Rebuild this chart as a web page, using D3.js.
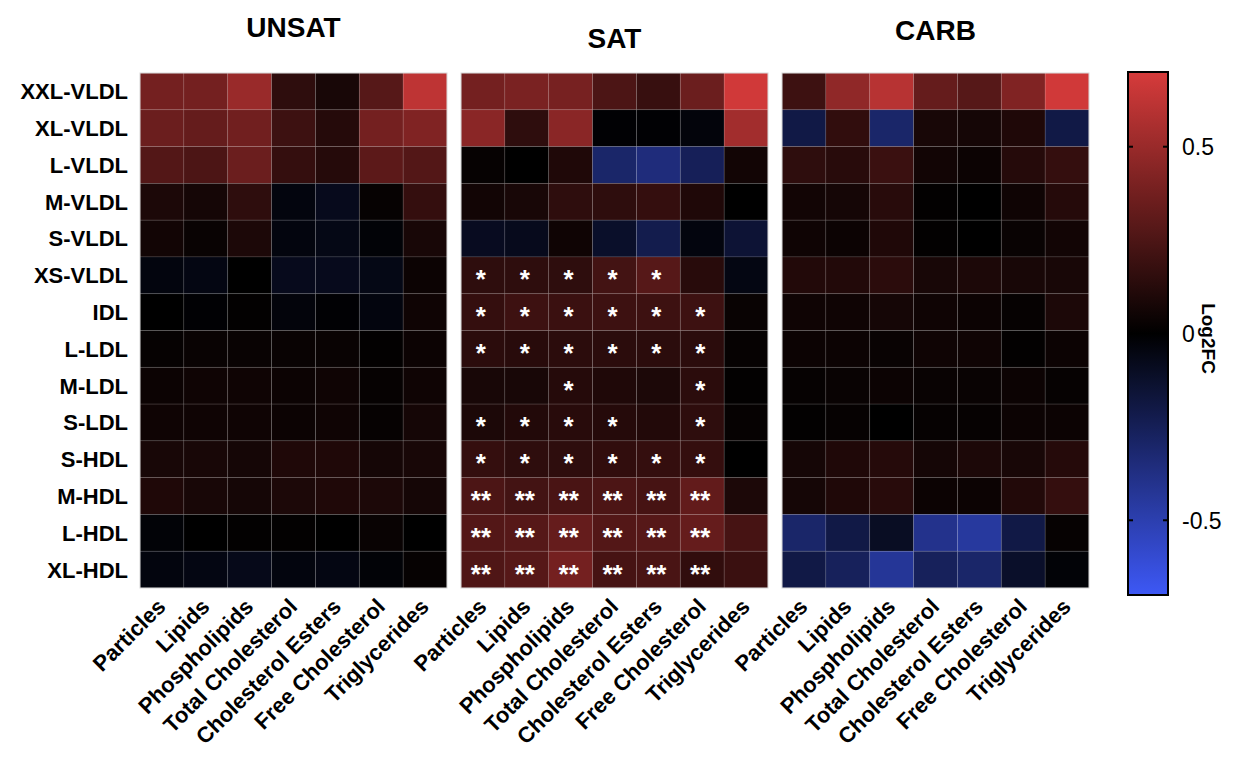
<!DOCTYPE html>
<html>
<head>
<meta charset="utf-8">
<script src="https://cdn.jsdelivr.net/npm/d3@7"></script>
<style>
  body { margin: 0; background: #fff; }
  text { font-family: "Liberation Sans", Arial, sans-serif; }
</style>
</head>
<body>
<div id="chart"></div>
<script>
var width = 1240, height = 762;

// rows and columns
var rows = ["XXL-VLDL", "XL-VLDL", "L-VLDL", "M-VLDL", "S-VLDL", "XS-VLDL", "IDL",
            "L-LDL", "M-LDL", "S-LDL", "S-HDL", "M-HDL", "L-HDL", "XL-HDL"];
var cols = ["Particles", "Lipids", "Phospholipids", "Total Cholesterol",
            "Cholesterol Esters", "Free Cholesterol", "Triglycerides"];
var panels = ["UNSAT", "SAT", "CARB"];
var ticks = [-0.5, 0, 0.5];

// log2FC values, one row per lipoprotein class
var unsat = [
  [0.38, 0.38, 0.50, 0.15, 0.08, 0.28, 0.62],
  [0.35, 0.33, 0.37, 0.20, 0.12, 0.38, 0.42],
  [0.27, 0.25, 0.35, 0.17, 0.12, 0.30, 0.27],
  [0.09, 0.07, 0.15, -0.04, -0.08, 0.02, 0.17],
  [0.06, 0.03, 0.09, -0.04, -0.06, -0.02, 0.08],
  [-0.04, -0.05, 0.00, -0.08, -0.08, -0.06, 0.04],
  [0.00, -0.01, 0.01, -0.03, -0.01, -0.04, 0.05],
  [0.02, 0.03, 0.03, 0.03, 0.03, 0.01, 0.04],
  [0.04, 0.05, 0.05, 0.04, 0.05, 0.02, 0.05],
  [0.05, 0.05, 0.05, 0.04, 0.05, 0.02, 0.07],
  [0.08, 0.08, 0.07, 0.10, 0.10, 0.07, 0.08],
  [0.10, 0.08, 0.07, 0.09, 0.10, 0.09, 0.07],
  [-0.02, 0.00, 0.01, 0.01, 0.00, 0.03, 0.00],
  [-0.04, -0.05, -0.07, -0.04, -0.05, -0.02, 0.02]
];
var sat = [
  [0.38, 0.40, 0.39, 0.25, 0.18, 0.35, 0.68],
  [0.45, 0.15, 0.45, -0.01, -0.01, -0.03, 0.53],
  [0.02, 0.00, 0.10, -0.30, -0.35, -0.25, 0.06],
  [0.06, 0.08, 0.15, 0.15, 0.17, 0.10, 0.00],
  [-0.09, -0.08, 0.05, -0.12, -0.22, -0.04, -0.15],
  [0.15, 0.15, 0.15, 0.22, 0.28, 0.13, -0.05],
  [0.17, 0.20, 0.19, 0.20, 0.20, 0.20, 0.03],
  [0.14, 0.13, 0.14, 0.14, 0.14, 0.14, 0.02],
  [0.08, 0.08, 0.12, 0.10, 0.09, 0.14, 0.01],
  [0.09, 0.11, 0.13, 0.12, 0.11, 0.15, 0.02],
  [0.17, 0.15, 0.15, 0.16, 0.17, 0.17, 0.00],
  [0.25, 0.22, 0.24, 0.25, 0.23, 0.32, 0.09],
  [0.27, 0.28, 0.33, 0.27, 0.28, 0.33, 0.23],
  [0.26, 0.28, 0.38, 0.23, 0.24, 0.16, 0.19]
];
var carb = [
  [0.20, 0.47, 0.60, 0.33, 0.28, 0.42, 0.68],
  [-0.20, 0.16, -0.30, 0.08, 0.07, 0.10, -0.20],
  [0.15, 0.13, 0.19, 0.06, 0.04, 0.12, 0.17],
  [0.06, 0.07, 0.13, 0.01, 0.00, 0.05, 0.12],
  [0.05, 0.04, 0.10, 0.01, 0.00, 0.03, 0.06],
  [0.11, 0.11, 0.14, 0.08, 0.09, 0.08, 0.08],
  [0.05, 0.05, 0.07, 0.05, 0.04, 0.02, 0.09],
  [0.04, 0.04, 0.03, 0.05, 0.05, 0.01, 0.04],
  [0.02, 0.03, 0.04, 0.03, 0.03, 0.04, 0.02],
  [0.01, 0.02, 0.00, 0.02, 0.02, 0.04, 0.04],
  [0.07, 0.10, 0.12, 0.07, 0.09, 0.08, 0.12],
  [0.07, 0.10, 0.13, 0.04, 0.04, 0.11, 0.17],
  [-0.30, -0.20, -0.10, -0.40, -0.45, -0.20, 0.02],
  [-0.20, -0.26, -0.43, -0.26, -0.30, -0.12, -0.02]
];
// significance marks for SAT
var satStars = [
  ["", "", "", "", "", "", ""],
  ["", "", "", "", "", "", ""],
  ["", "", "", "", "", "", ""],
  ["", "", "", "", "", "", ""],
  ["", "", "", "", "", "", ""],
  ["*", "*", "*", "*", "*", "", ""],
  ["*", "*", "*", "*", "*", "*", ""],
  ["*", "*", "*", "*", "*", "*", ""],
  ["", "", "*", "", "", "*", ""],
  ["*", "*", "*", "*", "", "*", ""],
  ["*", "*", "*", "*", "*", "*", ""],
  ["**", "**", "**", "**", "**", "**", ""],
  ["**", "**", "**", "**", "**", "**", ""],
  ["**", "**", "**", "**", "**", "**", ""]
];

var panelData = [unsat, sat, carb];
var panelStars = [null, satStars, null];
var panelX = [140, 461, 782];
var titleY = [37, 48, 40];
var panelW = 307, plotTop = 73, plotBottom = 588;

var color = d3.scaleLinear()
    .domain([-0.7, 0, 0.7])
    .range(["#3d58f5", "#000000", "#d63b3b"])
    .clamp(true);

var svg = d3.select("#chart").append("svg")
    .attr("width", width)
    .attr("height", height);

var y = d3.scaleBand().domain(rows).range([plotTop, plotBottom]).padding(0);

// row labels
svg.append("g")
    .selectAll("text")
    .data(rows)
    .enter().append("text")
    .attr("x", 128)
    .attr("y", function(d) { return y(d) + y.bandwidth() / 2; })
    .attr("dy", "0.36em")
    .attr("text-anchor", "end")
    .attr("font-size", 22)
    .attr("font-weight", "bold")
    .text(function(d) { return d; });

panels.forEach(function(name, p) {
    var x = d3.scaleBand().domain(cols).range([panelX[p], panelX[p] + panelW]);
    var g = svg.append("g").attr("class", "panel");
    var data = panelData[p];
    var cells = [];
    rows.forEach(function(r, i) {
        cols.forEach(function(c, j) {
            cells.push({ row: r, col: c, v: data[i][j],
                         star: panelStars[p] ? panelStars[p][i][j] : "" });
        });
    });

    g.selectAll("rect.cell")
        .data(cells)
        .enter().append("rect")
        .attr("class", "cell")
        .attr("x", function(d) { return x(d.col); })
        .attr("y", function(d) { return y(d.row); })
        .attr("width", x.bandwidth())
        .attr("height", y.bandwidth())
        .attr("fill", function(d) { return color(d.v); })
        .attr("stroke", "rgba(255,255,255,0.12)")
        .attr("stroke-width", 0.8);

    g.append("rect")
        .attr("x", panelX[p])
        .attr("y", plotTop)
        .attr("width", panelW)
        .attr("height", plotBottom - plotTop)
        .attr("fill", "none")
        .attr("stroke", "#d8d8d8")
        .attr("stroke-width", 1);

    g.selectAll("text.star")
        .data(cells.filter(function(d) { return d.star; }))
        .enter().append("text")
        .attr("class", "star")
        .attr("x", function(d) { return x(d.col) + x.bandwidth() / 2 - 2; })
        .attr("y", function(d) { return y(d.row) + y.bandwidth() / 2 + 13; })
        .attr("text-anchor", "middle")
        .attr("fill", "#fff")
        .attr("font-size", 26)
        .attr("font-weight", "bold")
        .text(function(d) { return d.star; });

    // title
    svg.append("text")
        .attr("x", panelX[p] + panelW / 2)
        .attr("y", titleY[p])
        .attr("text-anchor", "middle")
        .attr("font-size", 28)
        .attr("font-weight", "bold")
        .text(name);

    // column labels
    g.selectAll("text.col")
        .data(cols)
        .enter().append("text")
        .attr("class", "col")
        .attr("transform", function(d) {
            return "translate(" + (x(d) + x.bandwidth() / 2 + 5) + "," + 608 + ") rotate(-45)";
        })
        .attr("text-anchor", "end")
        .attr("font-size", 22)
        .attr("font-weight", "bold")
        .text(function(d) { return d; });
});

// colour bar
var cbX = 1128, cbW = 40, cbTop = 72, cbBottom = 595;
var cy = d3.scaleLinear().domain([-0.7, 0.7]).range([cbBottom, cbTop]);

var defs = svg.append("defs");
var grad = defs.append("linearGradient")
    .attr("id", "cbar")
    .attr("x1", 0).attr("y1", 1).attr("x2", 0).attr("y2", 0);
d3.range(0, 1.0001, 0.05).forEach(function(t) {
    grad.append("stop")
        .attr("offset", t)
        .attr("stop-color", color(-0.7 + 1.4 * t));
});

svg.append("rect")
    .attr("x", cbX)
    .attr("y", cbTop)
    .attr("width", cbW)
    .attr("height", cbBottom - cbTop)
    .attr("fill", "url(#cbar)")
    .attr("stroke", "#000")
    .attr("stroke-width", 2);

var tg = svg.append("g").selectAll("g")
    .data(ticks)
    .enter().append("g");
tg.append("line")
    .attr("x1", cbX).attr("x2", cbX + 5)
    .attr("y1", function(d) { return cy(d); })
    .attr("y2", function(d) { return cy(d); })
    .attr("stroke", "#000").attr("stroke-width", 2);
tg.append("line")
    .attr("x1", cbX + cbW - 5).attr("x2", cbX + cbW)
    .attr("y1", function(d) { return cy(d); })
    .attr("y2", function(d) { return cy(d); })
    .attr("stroke", "#000").attr("stroke-width", 2);
tg.append("text")
    .attr("x", cbX + cbW + 14)
    .attr("y", function(d) { return cy(d); })
    .attr("dy", "0.36em")
    .attr("font-size", 23)
    .text(function(d) { return d; });

svg.append("text")
    .attr("transform", "translate(1202," + (cy(0) + 5) + ") rotate(90)")
    .attr("text-anchor", "middle")
    .attr("font-size", 19)
    .attr("font-weight", "bold")
    .text("Log2FC");
</script>
</body>
</html>
